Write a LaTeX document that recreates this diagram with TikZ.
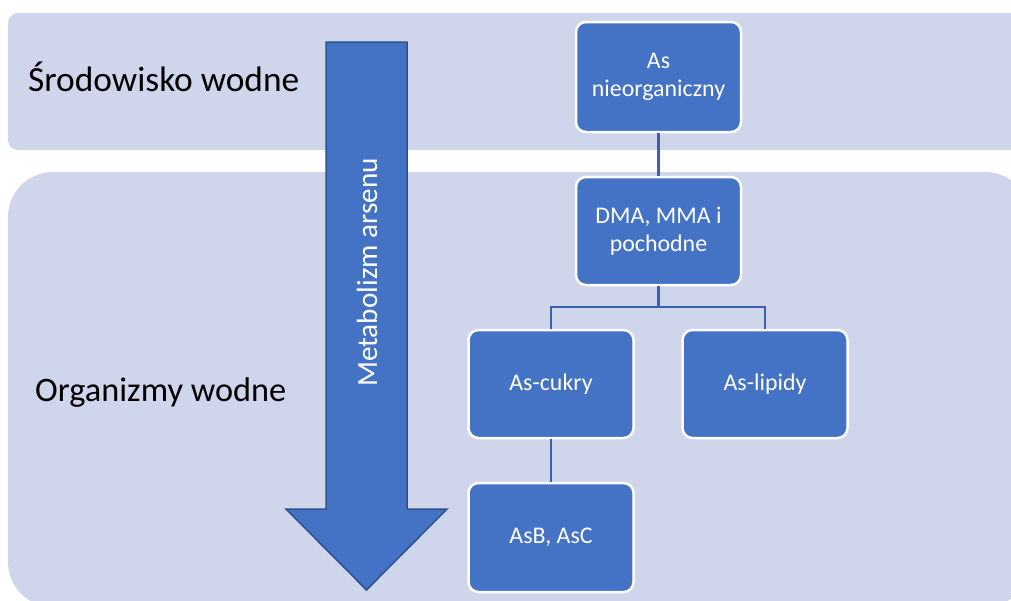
\documentclass[tikz,border=0pt]{standalone}
\usepackage{fontspec}
\setmainfont{Carlito}
\definecolor{band}{HTML}{CFD5EA}
\definecolor{boxblue}{HTML}{4472C4}
\definecolor{edgeblue}{HTML}{2F528F}
\definecolor{linkblue}{HTML}{3A62AE}
\tikzset{
  bandbox/.style={fill=band, draw=none},
  hbox/.style={fill=boxblue, draw=white, line width=2.5pt, rounded corners=10pt,
    minimum width=165pt, minimum height=109pt, inner sep=0pt, text=white,
    align=center, font=\fontsize{23.9}{28.5}\selectfont},
  link/.style={draw=linkblue, line width=2.2pt},
  bandlabel/.style={anchor=base west, inner sep=0pt, text=black},
}
\begin{document}
\begin{tikzpicture}[x=1pt,y=-1pt]
\useasboundingbox (0,0) rectangle (1011,600);
\begin{scope}
\clip (0,0) rectangle (1011,600);
\fill[bandbox, rounded corners=10pt] (8,13) rectangle (1030,150);
\fill[bandbox, rounded corners=45pt] (8,172) rectangle (1030,607);
\end{scope}
\node[bandlabel, font=\fontsize{35.4}{42}\selectfont] (env) at (28,91) {Środowisko wodne};
\node[bandlabel, font=\fontsize{34.3}{40}\selectfont] (org) at (35,401) {Organizmy wodne};
% big arrow
\draw[fill=boxblue, draw=edgeblue, line width=1.5pt, line join=miter]
  (326,42) -- (407,42) -- (407,509) -- (447,509) -- (366.5,590) -- (286,509) -- (326,509) -- cycle;
\node[rotate=90, text=white, font=\fontsize{29.2}{34}\selectfont, inner sep=0pt] (met) at (367,272.5) {Metabolizm arsenu};
% hierarchy
\node[hbox, minimum height=110pt] (asn) at (658.5,77) {As\\nieorganiczny};
\node[hbox, minimum height=108pt] (dma) at (658.5,231) {DMA, MMA i\\pochodne};
\node[hbox, minimum height=108pt] (cuk) at (551,384) {As-cukry};
\node[hbox, minimum height=108pt] (lip) at (765,384) {As-lipidy};
\node[hbox, minimum height=109pt] (asb) at (551,537.5) {AsB, AsC};
\coordinate (j) at (658.5,307);
\draw[link] (asn.south) -- (dma.north);
\draw[link] (dma.south) -- (j);
\draw[link] (j) -| (cuk.north);
\draw[link] (j) -| (lip.north);
\draw[link] (cuk.south) -- (asb.north);
\end{tikzpicture}
\end{document}
